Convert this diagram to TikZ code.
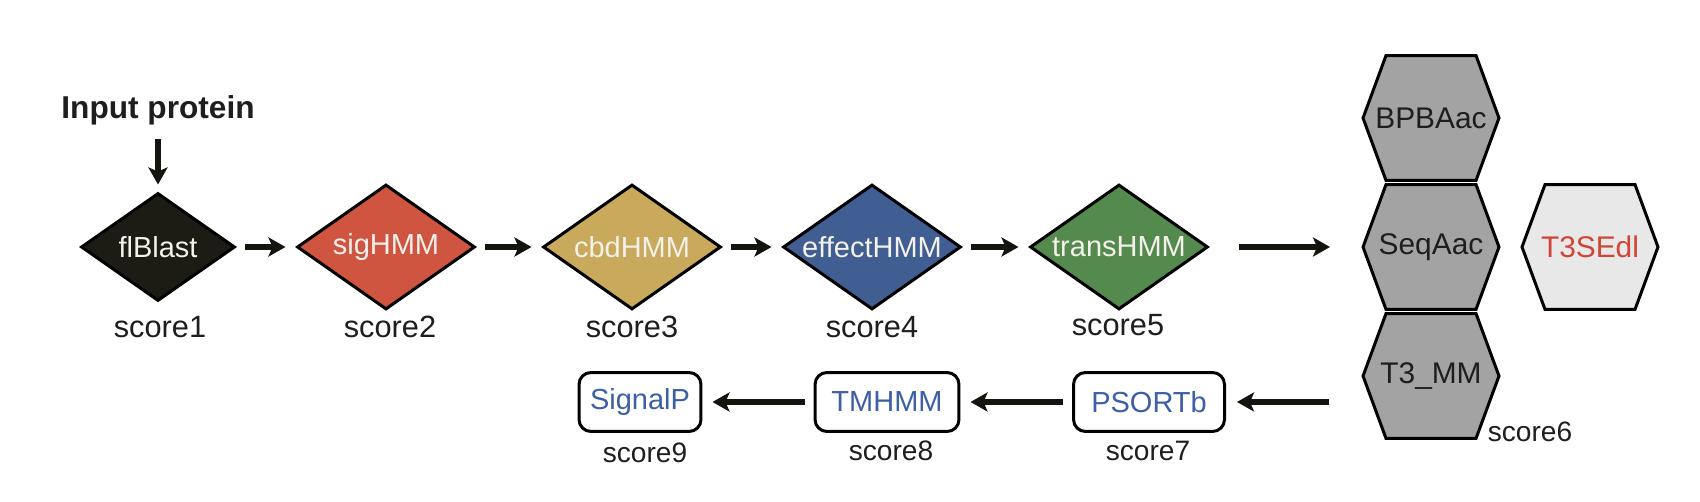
\documentclass[tikz,border=0pt]{standalone}
\usepackage{fontspec}
\setmainfont{Liberation Sans}
\usetikzlibrary{shapes.geometric, arrows.meta, backgrounds}

\definecolor{flcol}{HTML}{1C1B14}
\definecolor{sigcol}{HTML}{D05540}
\definecolor{cbdcol}{HTML}{C9A95C}
\definecolor{effcol}{HTML}{415E92}
\definecolor{transcol}{HTML}{558A4F}
\definecolor{hmmtext}{HTML}{F3F1EA}
\definecolor{hexgray}{HTML}{A3A3A3}
\definecolor{hexlight}{HTML}{E8E8E8}
\definecolor{edltext}{HTML}{D04535}
\definecolor{toolblue}{HTML}{3C5FA5}
\definecolor{inkcol}{HTML}{1E1E1E}
\definecolor{arrowcol}{HTML}{151510}

\tikzset{
  hmm/.style={diamond, draw=black, line width=0.06cm, inner sep=0pt, shape aspect=1.42,
    minimum width=3.56cm, minimum height=2.5cm, text=hmmtext, font=\fontsize{16.5}{16.5}\selectfont},
  hexcell/.style={rectangle, inner sep=0pt, outer sep=0pt, minimum width=2.72cm,
    minimum height=2.5cm, text=inkcol, font=\fontsize{17}{17}\selectfont},
  tool/.style={rectangle, rounded corners=0.24cm, draw=black, line width=0.06cm, fill=white,
    minimum width=3.02cm, minimum height=1.18cm, inner sep=0pt, text=toolblue,
    font=\fontsize{16.5}{16.5}\selectfont},
  score/.style={inner sep=0pt, text=inkcol, font=\fontsize{17.5}{17.5}\selectfont},
  flow/.style={line width=0.13cm, draw=arrowcol, shorten <=0.18cm, shorten >=0.2cm,
    -{Stealth[length=0.34cm, width=0.38cm, inset=0.08cm]}}
}

\begin{document}
\begin{tikzpicture}[x=0.02cm, y=-0.02cm]
        \useasboundingbox (0,0) rectangle (1700,502);

        \node[inner sep=0pt, text=inkcol, font=\fontsize{18}{18}\selectfont\bfseries] (inp) at (158,110) {Input protein};

        \node[hmm, fill=flcol, minimum width=3.08cm, minimum height=2.16cm] (fl) at (158,247) {flBlast};
        \node[hmm, fill=sigcol] (sig) at (386,247) {sigHMM};
        \node[hmm, fill=cbdcol] (cbd) at (632,247) {cbdHMM};
        \node[hmm, fill=effcol] (eff) at (872,247) {effectHMM};
        \node[hmm, fill=transcol] (trans) at (1119,247) {transHMM};

        \node[score] (s1) at (160,327) {score1};
        \node[score] (s2) at (390,327) {score2};
        \node[score] (s3) at (632,327) {score3};
        \node[score] (s4) at (872,327) {score4};
        \node[score] (s5) at (1118,325) {score5};

        \node[hexcell] (bpb) at (1431,118) {BPBAac};
        \node[hexcell] (seq) at (1431,247) {SeqAac};
        \node[hexcell] (tmm) at (1431,376) {T3\_MM};
        \node[hexcell, text=edltext] (edl) at (1590,247) {T3SEdl};
        \node[score, font=\fontsize{16}{16}\selectfont] (s6) at (1530,432) {score6};

        \node[tool] (psort) at (1149,402) {PSORTb};
        \node[tool, minimum width=2.88cm] (tm) at (887,402) {TMHMM};
        \node[tool, minimum width=2.44cm] (sigp) at (640,402) {SignalP};

        \node[score, font=\fontsize{16}{16}\selectfont] (s7) at (1148,451) {score7};
        \node[score, font=\fontsize{16}{16}\selectfont] (s8) at (891,451) {score8};
        \node[score, font=\fontsize{16}{16}\selectfont] (s9) at (645,453) {score9};

        \begin{scope}[on background layer]
        \foreach \h/\c in {bpb/hexgray, seq/hexgray, tmm/hexgray, edl/hexlight}
          \filldraw[fill=\c, draw=black, line width=0.06cm]
            ([xshift=0.46cm]\h.north west) -- ([xshift=-0.46cm]\h.north east) -- (\h.east)
            -- ([xshift=-0.46cm]\h.south east) -- ([xshift=0.46cm]\h.south west) -- (\h.west) -- cycle;
        \end{scope}

        \begin{scope}[every path/.style={flow}]
        \draw[shorten <=0.28cm, shorten >=0.14cm] (inp) -- (fl);
        \draw (fl) -- (sig);
        \draw (sig) -- (cbd);
        \draw (cbd) -- (eff);
        \draw (eff) -- (trans);
        \draw[shorten <=0.6cm, shorten >=0.66cm] (trans) -- (seq);

        \draw[shorten <=0.68cm, shorten >=0.22cm] (tmm.west |- psort) -- (psort);
        \draw (psort) -- (tm);
        \draw (tm) -- (sigp);
        \end{scope}

        \end{tikzpicture}
\end{document}
